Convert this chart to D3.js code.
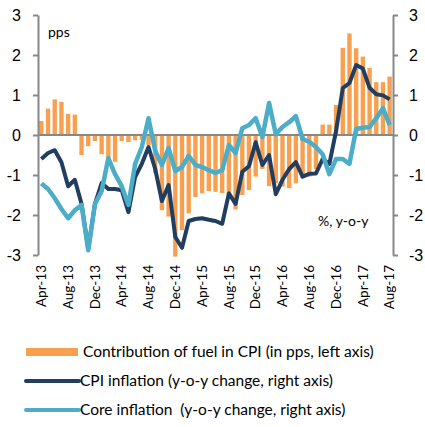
<!DOCTYPE html>
<html>
<head>
<meta charset="utf-8">
<script src="https://cdn.jsdelivr.net/npm/d3@7"></script>
<style>
    body { margin: 0; background: #fff; }
    svg { display: block; font-family: Lato, "Open Sans", sans-serif; }
    .axis path, .axis line { stroke: #878787; stroke-width: 2; }
    .axis text { font-size: 16px; fill: #000; }
</style>
</head>
<body>
<svg id="chart" width="425" height="427"></svg>
<script>
// months Apr-13 .. Aug-17
const months = d3.timeMonth.range(new Date(2013, 3, 1), new Date(2017, 8, 1)).map(d3.timeFormat("%b-%y"))
const tickLabels = ["Apr-13", "Aug-13", "Dec-13", "Apr-14", "Aug-14", "Dec-14", "Apr-15",
    "Aug-15", "Dec-15", "Apr-16", "Aug-16", "Dec-16", "Apr-17", "Aug-17"]
const yTicks = [-3, -2, -1, 0, 1, 2, 3]

// contribution of fuel in CPI, pps (left axis)
const fuel = [0.35, 0.66, 0.89, 0.83, 0.53, 0.51, -0.5, -0.28, -0.15, -0.48,
    -0.6, -0.67, -0.15, -0.18, -0.13, -0.12, -0.25, -0.95, -1.88, -2.04,
    -3.04, -2.38, -1.96, -1.55, -1.46, -1.4, -1.42, -1.45, -1.5, -1.86,
    -1.5, -1.38, -1.04, -0.85, -1.28, -1.21, -1.29, -1.33, -1.21, -1.08,
    -1.04, -0.85, 0.26, 0.26, 0.75, 2.18, 2.54, 2.17, 1.96, 1.68,
    1.32, 1.32, 1.46]

// CPI inflation, % y-o-y (right axis)
const cpi = [-0.6, -0.45, -0.38, -0.68, -1.28, -1.12, -1.72, -2.85, -1.72, -1.2,
    -1.35, -1.35, -1.38, -1.93, -1.05, -0.72, -0.3, -0.85, -1.65, -1.25,
    -2.55, -2.82, -2.15, -2.1, -2.08, -2.12, -2.15, -2.22, -1.46, -1.72,
    -0.92, -0.78, -0.18, -0.75, -0.5, -1.48, -1.12, -0.85, -0.68, -1.04,
    -0.97, -0.96, -0.6, -0.72, 0.1, 1.17, 1.3, 1.75, 1.66, 1.18,
    1.02, 0.99, 0.89]

// core inflation, % y-o-y (right axis)
const core = [-1.21, -1.35, -1.58, -1.85, -2.08, -1.88, -1.75, -2.88, -1.73, -1.4,
    -0.58, -0.98, -1.28, -1.75, -0.72, -0.3, 0.42, -0.4, -0.75, -0.33,
    -0.9, -0.8, -0.52, -0.75, -0.8, -0.88, -0.95, -0.88, -0.25, -0.45,
    0.17, 0.25, 0.42, -0.05, 0.8, 0.02, 0.2, 0.32, 0.47, -0.1,
    -0.17, -0.3, -0.48, -0.98, -0.6, -0.6, -0.72, 0.15, 0.18, 0.2,
    0.42, 0.67, 0.25]

const FUEL_COLOR = "#F9A050"
const CPI_COLOR = "#213D5F"
const CORE_COLOR = "#4BADC7"

const svg = d3.select("#chart")
const plotLeft = 38, plotRight = 393, plotTop = 15, plotBottom = 255

const x = d3.scaleBand().domain(months).range([plotLeft, plotRight]).paddingInner(0.35).paddingOuter(0.175)
const yL = d3.scaleLinear().domain([-3, 3]).range([plotBottom, plotTop])
const yR = d3.scaleLinear().domain([-3, 3]).range([plotBottom, plotTop])
const cx = (d, i) => x(months[i]) + x.bandwidth() / 2
const fmt = d => String(d)

// bars
svg.append("g").selectAll("rect")
    .data(fuel)
    .join("rect")
    .attr("x", (d, i) => x(months[i]))
    .attr("width", x.bandwidth())
    .attr("y", d => yL(Math.max(0, d)))
    .attr("height", d => Math.abs(yL(d) - yL(0)))
    .attr("fill", FUEL_COLOR)

// zero line
svg.append("line")
    .attr("x1", plotLeft).attr("x2", plotRight)
    .attr("y1", yL(0)).attr("y2", yL(0))
    .attr("stroke", "#878787").attr("stroke-width", 2)

// axes
svg.append("g").attr("class", "axis")
    .attr("transform", `translate(${plotLeft},0)`)
    .call(d3.axisLeft(yL).tickValues(yTicks).tickFormat(fmt).tickSize(5).tickSizeOuter(0).tickPadding(12))
svg.append("g").attr("class", "axis")
    .attr("transform", `translate(${plotRight},0)`)
    .call(d3.axisRight(yR).tickValues(yTicks).tickFormat(fmt).tickSize(5).tickSizeOuter(0).tickPadding(11))

// category labels, rotated
svg.append("g").selectAll("text")
    .data(tickLabels)
    .join("text")
    .attr("transform", d => `translate(${x(d) + x.bandwidth() / 2},265) rotate(-90)`)
    .attr("dy", "0.35em")
    .attr("text-anchor", "end")
    .attr("font-size", 13.5)
    .text(d => d)

// lines
const line = d3.line().x(cx).y(d => yR(d))
svg.append("path").datum(cpi)
    .attr("d", line).attr("fill", "none")
    .attr("stroke", CPI_COLOR).attr("stroke-width", 4).attr("stroke-linejoin", "round")
svg.append("path").datum(core)
    .attr("d", line).attr("fill", "none")
    .attr("stroke", CORE_COLOR).attr("stroke-width", 4.5).attr("stroke-linejoin", "round")

// unit notes
svg.append("text").attr("x", 48).attr("y", 37).attr("font-size", 14).text("pps")
svg.append("text").attr("x", 318).attr("y", 226).attr("font-size", 14).text("%, y-o-y")

// legend
const legendItems = [
    {label: "Contribution of fuel in CPI (in pps, left axis)", color: FUEL_COLOR, kind: "bar"},
    {label: "CPI inflation (y-o-y change, right axis)", color: CPI_COLOR, kind: "line"},
    {label: "Core inflation  (y-o-y change, right axis)", color: CORE_COLOR, kind: "line"}
]
const legend = svg.append("g").selectAll("g")
    .data(legendItems)
    .join("g")
    .attr("transform", (d, i) => `translate(0,${352 + i * 29})`)
legend.filter(d => d.kind === "bar").append("rect")
    .attr("x", 26).attr("y", -4).attr("width", 52).attr("height", 8)
    .attr("fill", d => d.color)
legend.filter(d => d.kind === "line").append("line")
    .attr("x1", 26).attr("x2", 79).attr("y1", 0).attr("y2", 0)
    .attr("stroke", d => d.color).attr("stroke-width", 4).attr("stroke-linecap", "round")
legend.append("text")
    .attr("x", (d, i) => i === 0 ? 83 : 80)
    .attr("dy", "0.35em")
    .attr("font-size", 15.5)
    .style("white-space", "pre")
    .text(d => d.label)
</script>
</body>
</html>
